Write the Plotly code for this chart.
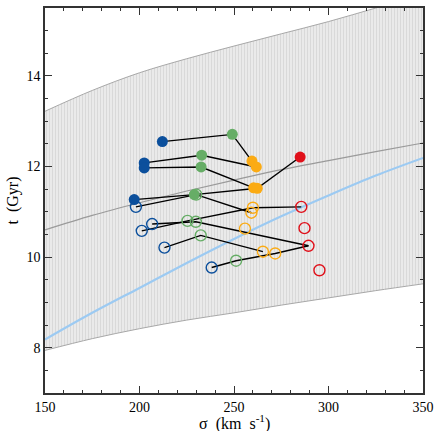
import plotly.graph_objects as go

# ---- band / curves ----
sig_grid = [150, 175, 200, 225, 250, 275, 300, 325, 350]
band_upper = [13.22, 13.68, 14.07, 14.38, 14.66, 14.93, 15.20, 15.50, 15.80]
band_mid = [10.60, 10.92, 11.20, 11.46, 11.70, 11.93, 12.13, 12.33, 12.52]
band_lower = [7.94, 8.20, 8.42, 8.61, 8.77, 8.94, 9.10, 9.26, 9.41]
blue_curve = [8.18, 8.77, 9.32, 9.87, 10.40, 10.90, 11.36, 11.80, 12.19]

# ---- points ----
blue_f_x = [212.1, 202.5, 202.5, 197.2]
blue_f_y = [12.55, 12.08, 11.97, 11.27]
green_f_x = [249.1, 232.9, 232.6, 229.0]
green_f_y = [12.71, 12.25, 11.99, 11.38]
orange_f_x = [259.5, 261.8, 260.4, 262.3]
orange_f_y = [12.12, 11.99, 11.53, 11.52]
red_f_x = [285.0]
red_f_y = [12.21]

blue_o_x = [198.1, 201.2, 206.7, 213.2, 238.2]
blue_o_y = [11.11, 10.58, 10.73, 10.21, 9.77]
green_o_x = [230.0, 225.4, 229.8, 232.4, 251.1]
green_o_y = [11.38, 10.80, 10.78, 10.48, 9.92]
orange_o_x = [259.2, 260.0, 255.8, 265.3, 271.8]
orange_o_y = [10.98, 11.09, 10.63, 10.12, 10.08]
red_o_x = [285.6, 287.3, 289.4, 295.2]
red_o_y = [11.11, 10.64, 10.25, 9.71]

# chains joining the points
chains = [
    ([blue_f_x[0], green_f_x[0], orange_f_x[0]], [blue_f_y[0], green_f_y[0], orange_f_y[0]]),
    ([blue_f_x[1], green_f_x[1], orange_f_x[1]], [blue_f_y[1], green_f_y[1], orange_f_y[1]]),
    ([blue_f_x[2], green_f_x[2], orange_f_x[2]], [blue_f_y[2], green_f_y[2], orange_f_y[2]]),
    ([blue_f_x[3], green_f_x[3], orange_f_x[3], red_f_x[0]], [blue_f_y[3], green_f_y[3], orange_f_y[3], red_f_y[0]]),
    ([blue_o_x[0], green_o_x[0], orange_o_x[0]], [blue_o_y[0], green_o_y[0], orange_o_y[0]]),
    ([blue_o_x[1], green_o_x[1], orange_o_x[1], red_o_x[0]], [blue_o_y[1], green_o_y[1], orange_o_y[1], red_o_y[0]]),
    ([blue_o_x[2], green_o_x[2], red_o_x[2]], [blue_o_y[2], green_o_y[2], red_o_y[2]]),
    ([blue_o_x[3], green_o_x[3], orange_o_x[3]], [blue_o_y[3], green_o_y[3], orange_o_y[3]]),
    ([blue_o_x[4], green_o_x[4], orange_o_x[4], red_o_x[2]], [blue_o_y[4], green_o_y[4], orange_o_y[4], red_o_y[2]]),
]

C_BLUE = "#0b4f9c"
C_GREEN = "#66ad66"
C_ORANGE = "#fbab14"
C_RED = "#e0101a"

fig = go.Figure()

fig.add_trace(go.Scatter(x=sig_grid, y=band_lower, mode="lines",
                         line=dict(color="#a8a8a8", width=1, shape="spline"),
                         showlegend=False, hoverinfo="skip"))
fig.add_trace(go.Scatter(x=sig_grid, y=band_upper, mode="lines",
                         line=dict(color="#a8a8a8", width=1, shape="spline"),
                         fill="tonexty", fillcolor="#e6e6e6",
                         fillpattern=dict(shape="|", bgcolor="#eaeaea", fgcolor="#bdbdbd",
                                          size=3, solidity=0.25),
                         showlegend=False, hoverinfo="skip"))
fig.add_trace(go.Scatter(x=sig_grid, y=band_mid, mode="lines",
                         line=dict(color="#9a9a9a", width=1.2, shape="spline"),
                         showlegend=False, hoverinfo="skip"))
fig.add_trace(go.Scatter(x=sig_grid, y=blue_curve, mode="lines",
                         line=dict(color="#9ccaf2", width=2.2, shape="spline"),
                         showlegend=False, hoverinfo="skip"))

for cx, cy in chains:
    fig.add_trace(go.Scatter(x=cx, y=cy, mode="lines",
                             line=dict(color="black", width=1.4),
                             showlegend=False, hoverinfo="skip"))

MS = 11
for xs, ys, c in [(blue_o_x, blue_o_y, C_BLUE), (green_o_x, green_o_y, C_GREEN),
                  (orange_o_x, orange_o_y, C_ORANGE), (red_o_x, red_o_y, C_RED)]:
    fig.add_trace(go.Scatter(x=xs, y=ys, mode="markers",
                             marker=dict(symbol="circle-open", size=MS, color=c,
                                         line=dict(color=c, width=1.4)),
                             showlegend=False))
for xs, ys, c in [(blue_f_x, blue_f_y, C_BLUE), (green_f_x, green_f_y, C_GREEN),
                  (orange_f_x, orange_f_y, C_ORANGE), (red_f_x, red_f_y, C_RED)]:
    fig.add_trace(go.Scatter(x=xs, y=ys, mode="markers",
                             marker=dict(symbol="circle", size=MS, color=c,
                                         line=dict(width=0)),
                             showlegend=False))

FONT = "Liberation Serif"
axis_common = dict(ticks="inside", ticklen=7, tickwidth=1, tickcolor="#333",
                   showline=True, linecolor="#333", linewidth=1.5, mirror="allticks",
                   showgrid=False, zeroline=False, automargin=False)
fig.update_layout(
    width=435, height=431,
    margin=dict(l=45, r=12, t=8, b=38),
    paper_bgcolor="white", plot_bgcolor="white",
    font=dict(family=FONT, size=14, color="black"),
    xaxis=dict(range=[150, 350], tickvals=[150, 200, 250, 300, 350],
               minor=dict(dtick=10, ticks="inside", ticklen=3.5, tickwidth=1, tickcolor="#333"),
               **axis_common),
    yaxis=dict(range=[7.0, 15.5], tickvals=[8, 10, 12, 14],
               minor=dict(dtick=0.5, ticks="inside", ticklen=3.5, tickwidth=1, tickcolor="#333"),
               **axis_common),
    annotations=[
        dict(text="σ\u00a0\u00a0(km\u00a0\u00a0s<sup>-1</sup>)", xref="paper", yref="paper",
             x=0.5, y=0, yshift=-29, xanchor="center", yanchor="middle",
             showarrow=False, font=dict(family=FONT, size=16)),
        dict(text="t\u00a0\u00a0(Gyr)", xref="paper", yref="paper",
             x=0, y=0.5, xshift=-33, xanchor="center", yanchor="middle", textangle=-90,
             showarrow=False, font=dict(family=FONT, size=16)),
    ],
)

fig.write_html("out.html", config={"displayModeBar": False},
               post_script="document.body.style.margin='0';document.body.style.padding='0';")
